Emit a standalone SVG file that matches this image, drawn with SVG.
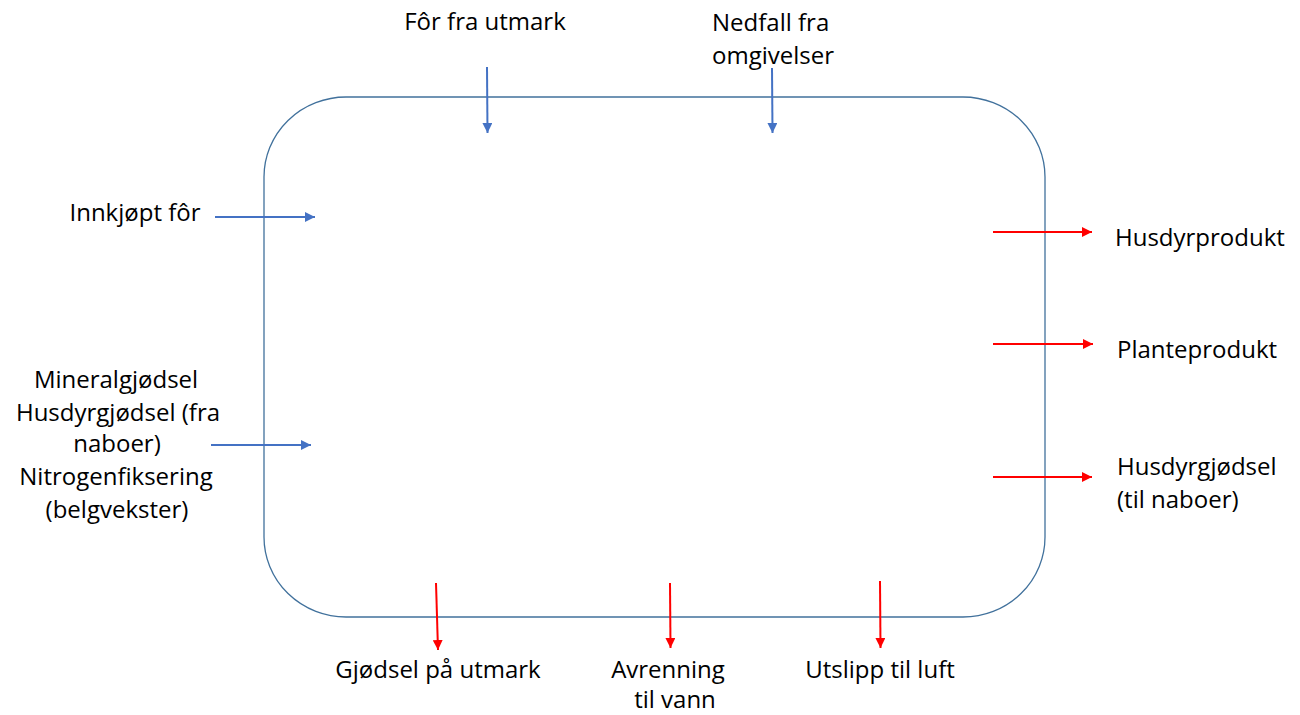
<svg xmlns="http://www.w3.org/2000/svg" width="1300" height="715" viewBox="0 0 1300 715">
<defs>
<style>
text{font-family:"Open Sans","Liberation Sans",sans-serif;font-size:24px;fill:#000}
.in{stroke:#4472C4;stroke-width:2;fill:none}
.out{stroke:#FF0000;stroke-width:2;fill:none}
</style>
<marker id="ab" viewBox="0 0 10 10" refX="10" refY="5" markerWidth="5" markerHeight="5" orient="auto" markerUnits="strokeWidth"><path d="M0,0L10,5L0,10z" fill="#4472C4"/></marker>
<marker id="ar" viewBox="0 0 10 10" refX="10" refY="5" markerWidth="5" markerHeight="5" orient="auto" markerUnits="strokeWidth"><path d="M0,0L10,5L0,10z" fill="#FF0000"/></marker>
</defs>
<rect id="farm" x="264" y="97" width="781" height="520" rx="82" ry="80" fill="none" stroke="#41719C" stroke-width="1.3"/>
<g id="connectors">
<line class="in" x1="215" y1="217" x2="315" y2="217" marker-end="url(#ab)"/>
<line class="in" x1="211" y1="445" x2="311" y2="445" marker-end="url(#ab)"/>
<line class="in" x1="487" y1="67" x2="487.5" y2="133" marker-end="url(#ab)"/>
<line class="in" x1="772" y1="68" x2="772.5" y2="133" marker-end="url(#ab)"/>
<line class="out" x1="993" y1="232" x2="1092" y2="232" marker-end="url(#ar)"/>
<line class="out" x1="993" y1="344" x2="1093" y2="344" marker-end="url(#ar)"/>
<line class="out" x1="993" y1="477" x2="1092" y2="477" marker-end="url(#ar)"/>
<line class="out" x1="436" y1="583" x2="438" y2="650" marker-end="url(#ar)"/>
<line class="out" x1="670" y1="583" x2="670.5" y2="648" marker-end="url(#ar)"/>
<line class="out" x1="880" y1="581" x2="880.5" y2="648" marker-end="url(#ar)"/>
</g>
<g id="n-for-utmark"><text x="485" y="30" text-anchor="middle">Fôr fra utmark</text></g>
<g id="n-nedfall"><text x="712" y="31">Nedfall fra</text><text x="712" y="64">omgivelser</text></g>
<g id="n-innkjopt"><text x="135" y="221" text-anchor="middle">Innkjøpt fôr</text></g>
<g id="n-gjodsel-inn">
<text x="116" y="388" text-anchor="middle">Mineralgjødsel</text>
<text x="118" y="421" text-anchor="middle">Husdyrgjødsel (fra</text>
<text x="117" y="452" text-anchor="middle">naboer)</text>
<text x="116" y="485" text-anchor="middle">Nitrogenfiksering</text>
<text x="117" y="518" text-anchor="middle">(belgvekster)</text>
</g>
<g id="n-husdyrprodukt"><text x="1115" y="246">Husdyrprodukt</text></g>
<g id="n-planteprodukt"><text x="1117" y="358">Planteprodukt</text></g>
<g id="n-husdyrgjodsel-ut"><text x="1117" y="475">Husdyrgjødsel</text><text x="1117" y="508">(til naboer)</text></g>
<g id="n-gjodsel-utmark"><text x="438" y="678" text-anchor="middle">Gjødsel på utmark</text></g>
<g id="n-avrenning"><text x="668" y="678" text-anchor="middle">Avrenning</text><text x="675" y="708" text-anchor="middle">til vann</text></g>
<g id="n-utslipp"><text x="880" y="678" text-anchor="middle">Utslipp til luft</text></g>
</svg>
